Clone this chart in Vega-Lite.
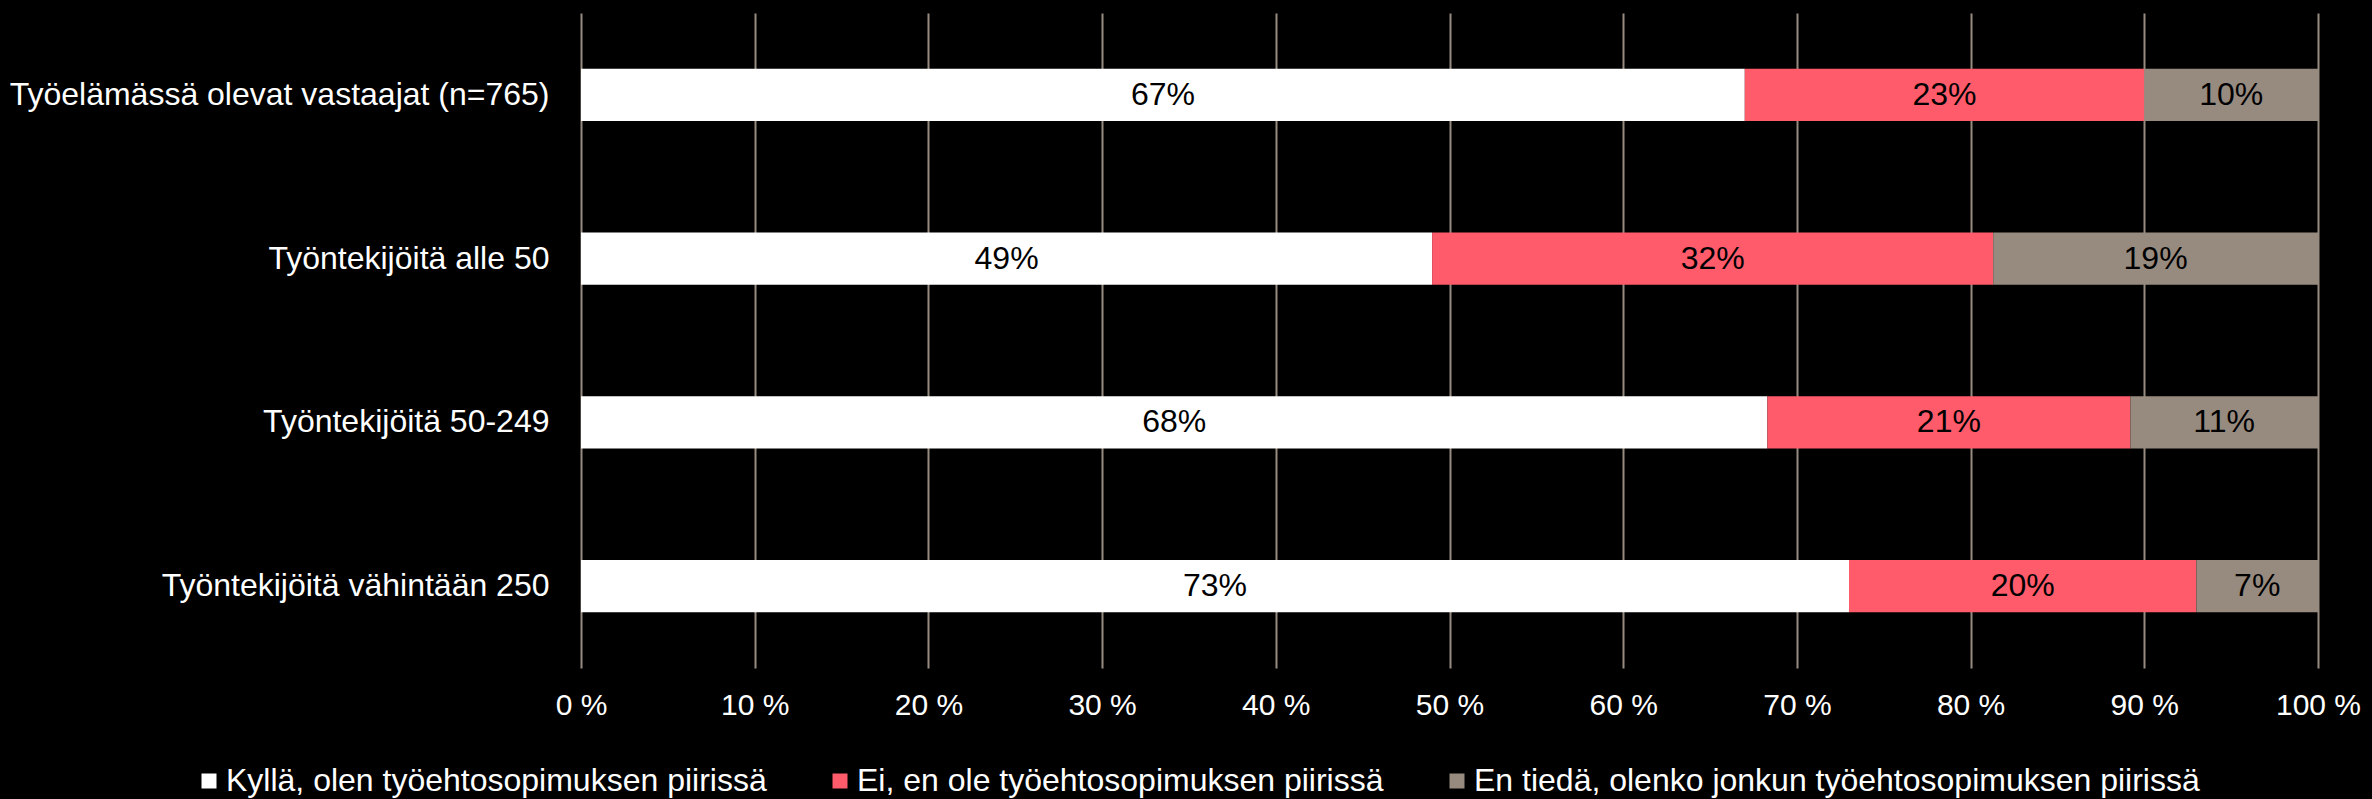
{
  "$schema": "https://vega.github.io/schema/vega-lite/v6.json",
  "width": 1737,
  "height": 655,
  "autosize": {"type": "none"},
  "padding": {"left": 581, "top": 13, "right": 54, "bottom": 131},
  "background": "#000000",
  "config": {
    "view": {"stroke": null},
    "font": "Liberation Sans"
  },
  "data": {
    "values": [
      {"cat": "Työelämässä olevat vastaajat (n=765)", "resp": "Kyllä, olen työehtosopimuksen piirissä", "k": 1, "value": 0.67},
      {"cat": "Työelämässä olevat vastaajat (n=765)", "resp": "Ei, en ole työehtosopimuksen piirissä", "k": 2, "value": 0.23},
      {"cat": "Työelämässä olevat vastaajat (n=765)", "resp": "En tiedä, olenko jonkun työehtosopimuksen piirissä", "k": 3, "value": 0.10},
      {"cat": "Työntekijöitä alle 50", "resp": "Kyllä, olen työehtosopimuksen piirissä", "k": 1, "value": 0.49},
      {"cat": "Työntekijöitä alle 50", "resp": "Ei, en ole työehtosopimuksen piirissä", "k": 2, "value": 0.323},
      {"cat": "Työntekijöitä alle 50", "resp": "En tiedä, olenko jonkun työehtosopimuksen piirissä", "k": 3, "value": 0.187},
      {"cat": "Työntekijöitä 50-249", "resp": "Kyllä, olen työehtosopimuksen piirissä", "k": 1, "value": 0.683},
      {"cat": "Työntekijöitä 50-249", "resp": "Ei, en ole työehtosopimuksen piirissä", "k": 2, "value": 0.209},
      {"cat": "Työntekijöitä 50-249", "resp": "En tiedä, olenko jonkun työehtosopimuksen piirissä", "k": 3, "value": 0.108},
      {"cat": "Työntekijöitä vähintään 250", "resp": "Kyllä, olen työehtosopimuksen piirissä", "k": 1, "value": 0.73},
      {"cat": "Työntekijöitä vähintään 250", "resp": "Ei, en ole työehtosopimuksen piirissä", "k": 2, "value": 0.20},
      {"cat": "Työntekijöitä vähintään 250", "resp": "En tiedä, olenko jonkun työehtosopimuksen piirissä", "k": 3, "value": 0.07}
    ]
  },
  "encoding": {
    "y": {
      "field": "cat", "type": "nominal", "sort": null,
      "scale": {"paddingInner": 0.68, "paddingOuter": 0.34},
      "axis": {
        "title": null, "ticks": false, "domain": false, "grid": false,
        "labelColor": "#FFFFFF", "labelFontSize": 32, "labelPadding": 32,
        "labelFont": "Liberation Sans", "labelLimit": 1000
      }
    },
    "order": {"field": "k", "type": "quantitative", "sort": "ascending"}
  },
  "layer": [
    {
      "mark": {"type": "bar"},
      "encoding": {
        "x": {
          "field": "value", "type": "quantitative", "stack": "zero",
          "scale": {"domain": [0, 1], "nice": false},
          "axis": {
            "title": null, "values": [0, 0.1, 0.2, 0.3, 0.4, 0.5, 0.6, 0.7, 0.8, 0.9, 1],
            "labelExpr": "round(datum.value * 100) + ' %'",
            "grid": true, "gridColor": "#978B80", "gridWidth": 2, "gridOpacity": 1,
            "domain": false, "ticks": false,
            "labelColor": "#FFFFFF", "labelFontSize": 30, "labelPadding": 22,
            "labelFont": "Liberation Sans", "labelFlush": false
          }
        },
        "color": {
          "field": "resp", "type": "nominal",
          "scale": {
            "domain": ["Kyllä, olen työehtosopimuksen piirissä", "Ei, en ole työehtosopimuksen piirissä", "En tiedä, olenko jonkun työehtosopimuksen piirissä"],
            "range": ["#FFFFFF", "#FF5B6B", "#978B80"]
          },
          "legend": {
            "title": null, "orient": "none", "direction": "horizontal",
            "legendX": -388, "legendY": 752,
            "symbolType": "square", "symbolSize": 225, "symbolStrokeWidth": 0,
            "labelColor": "#FFFFFF", "labelFontSize": 32, "labelFont": "Liberation Sans",
            "labelOffset": 1, "columnPadding": 57, "labelLimit": 1000
          }
        }
      }
    },
    {
      "mark": {"type": "rule", "color": "#FFFFFF", "strokeWidth": 2},
      "encoding": {"x": {"datum": 0}}
    },
    {
      "mark": {"type": "text", "color": "#000000", "fontSize": 32, "font": "Liberation Sans", "align": "center", "baseline": "middle"},
      "encoding": {
        "x": {"field": "value", "type": "quantitative", "stack": "zero", "bandPosition": 0.5},
        "text": {"field": "value", "type": "quantitative", "format": ".0%"}
      }
    }
  ]
}
